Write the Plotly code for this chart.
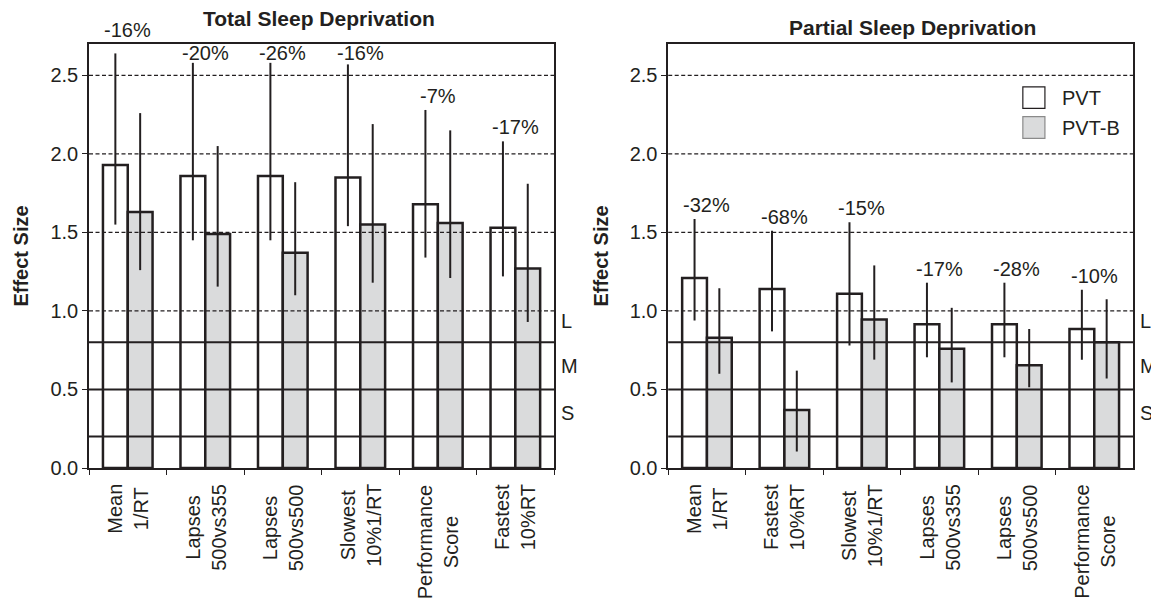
import plotly.graph_objects as go

# ---------------- data ----------------
series_names = ["PVT", "PVT-B"]

total_categories = ["Mean 1/RT", "Lapses 500vs355", "Lapses 500vs500",
                    "Slowest 10%1/RT", "Performance Score", "Fastest 10%RT"]
total_tick_labels = ["Mean<br>1/RT", "Lapses<br>500vs355", "Lapses<br>500vs500",
                     "Slowest<br>10%1/RT", "Performance<br>Score", "Fastest<br>10%RT"]
total_pvt = [1.93, 1.86, 1.86, 1.85, 1.68, 1.53]
total_pvt_lo = [1.55, 1.45, 1.45, 1.54, 1.34, 1.22]
total_pvt_hi = [2.64, 2.58, 2.58, 2.57, 2.28, 2.08]
total_pvtb = [1.63, 1.49, 1.37, 1.55, 1.56, 1.27]
total_pvtb_lo = [1.26, 1.155, 1.10, 1.18, 1.21, 0.93]
total_pvtb_hi = [2.26, 2.05, 1.82, 2.19, 2.15, 1.81]
total_change = ["-16%", "-20%", "-26%", "-16%", "-7%", "-17%"]

partial_categories = ["Mean 1/RT", "Fastest 10%RT", "Slowest 10%1/RT",
                      "Lapses 500vs355", "Lapses 500vs500", "Performance Score"]
partial_tick_labels = ["Mean<br>1/RT", "Fastest<br>10%RT", "Slowest<br>10%1/RT",
                       "Lapses<br>500vs355", "Lapses<br>500vs500", "Performance<br>Score"]
partial_pvt = [1.21, 1.14, 1.11, 0.915, 0.915, 0.885]
partial_pvt_lo = [0.94, 0.87, 0.78, 0.705, 0.705, 0.69]
partial_pvt_hi = [1.585, 1.51, 1.565, 1.18, 1.18, 1.135]
partial_pvtb = [0.83, 0.37, 0.945, 0.76, 0.655, 0.80]
partial_pvtb_lo = [0.60, 0.105, 0.69, 0.545, 0.515, 0.57]
partial_pvtb_hi = [1.145, 0.62, 1.29, 1.02, 0.885, 1.075]
partial_change = ["-32%", "-68%", "-15%", "-17%", "-28%", "-10%"]

panel_titles = ["Total Sleep Deprivation", "Partial Sleep Deprivation"]
effect_thresholds = [0.2, 0.5, 0.8]
effect_labels = ["S", "M", "L"]
grid_values = [1.0, 1.5, 2.0, 2.5]
y_ticks = [0.0, 0.5, 1.0, 1.5, 2.0, 2.5]
y_max = 2.7

# ---------------- style ----------------
INK = "#231f20"
GREY_FILL = "#dadbdc"
FONT = "Liberation Sans, Arial, Helvetica, sans-serif"
FS = 20

fig = go.Figure()

panels = [
    dict(xa="x", ya="y", xd="x domain", yd="y domain", cats=total_categories, ticks=total_tick_labels,
         pvt=total_pvt, pvt_lo=total_pvt_lo, pvt_hi=total_pvt_hi,
         pvtb=total_pvtb, pvtb_lo=total_pvtb_lo, pvtb_hi=total_pvtb_hi,
         change=total_change, title=panel_titles[0], title_shift=(-3, 26)),
    dict(xa="x2", ya="y2", xd="x2 domain", yd="y2 domain", cats=partial_categories, ticks=partial_tick_labels,
         pvt=partial_pvt, pvt_lo=partial_pvt_lo, pvt_hi=partial_pvt_hi,
         pvtb=partial_pvtb, pvtb_lo=partial_pvtb_lo, pvtb_hi=partial_pvtb_hi,
         change=partial_change, title=panel_titles[1], title_shift=(12, 17)),
]

annotations = []
shapes = []


def label_level(top):
    """Vertical centre of a percent label, given the highest whisker of its group."""
    if top > 2.6:                      # whisker reaches the frame: label sits above it
        return y_max + 0.09
    return min(top + 0.09, 2.64)


for p in panels:
    for name, vals, lo, hi, fill in [
        (series_names[0], p["pvt"], p["pvt_lo"], p["pvt_hi"], "white"),
        (series_names[1], p["pvtb"], p["pvtb_lo"], p["pvtb_hi"], GREY_FILL),
    ]:
        fig.add_trace(go.Bar(
            x=p["cats"], y=vals, name=name, showlegend=False,
            xaxis=p["xa"], yaxis=p["ya"],
            marker=dict(color=fill, line=dict(color=INK, width=2.5)),
            error_y=dict(type="data", symmetric=False,
                         array=[h - v for h, v in zip(hi, vals)],
                         arrayminus=[v - l for v, l in zip(vals, lo)],
                         width=0, thickness=2, color=INK),
        ))

    # percent change labels above each group (domain reference so labels above the
    # axis range are still drawn)
    for i, c in enumerate(p["cats"]):
        top = max(p["pvt_hi"][i], p["pvtb_hi"][i])
        annotations.append(dict(x=c, y=label_level(top) / y_max, xref=p["xa"], yref=p["yd"],
                                text=p["change"][i], showarrow=False,
                                xanchor="center", yanchor="middle",
                                font=dict(size=FS, color=INK, family=FONT)))
    # rotated category labels
    for c, lab in zip(p["cats"], p["ticks"]):
        annotations.append(dict(x=c, y=0, xref=p["xa"], yref="paper",
                                text=lab, showarrow=False, textangle=-90,
                                xanchor="center", yanchor="top", yshift=-14,
                                align="center",
                                font=dict(size=FS, color=INK, family=FONT)))
    # panel title
    annotations.append(dict(x=0.5, y=1, xref=p["xd"], yref="paper",
                            text="<b>" + p["title"] + "</b>", showarrow=False,
                            xanchor="center", yanchor="middle",
                            xshift=p["title_shift"][0], yshift=p["title_shift"][1],
                            font=dict(size=21, color=INK, family=FONT)))
    # effect size reference lines (S/M/L)
    for t in effect_thresholds:
        shapes.append(dict(type="line", xref=p["xd"], yref=p["ya"],
                           x0=0, x1=1, y0=t, y1=t, layer="above",
                           line=dict(color=INK, width=2)))
    bounds = effect_thresholds + [effect_thresholds[-1] + 0.3]
    for k, lab in enumerate(effect_labels):
        annotations.append(dict(x=1, y=(bounds[k] + bounds[k + 1]) / 2 - (0.015 if k == 2 else 0),
                                xref=p["xd"], yref=p["ya"],
                                text=lab, showarrow=False, xanchor="left", yanchor="middle",
                                xshift=5, font=dict(size=FS, color=INK, family=FONT)))
    # dashed grid lines above the bars
    for g in grid_values:
        shapes.append(dict(type="line", xref=p["xd"], yref=p["ya"],
                           x0=0, x1=1, y0=g, y1=g, layer="above",
                           line=dict(color=INK, width=1.2, dash="4px,2.5px")))

# manual legend in the right panel
legend_rows = [(series_names[0], "white", INK), (series_names[1], GREY_FILL, "#8a8a8a")]
for k, (name, fill, edge) in enumerate(legend_rows):
    y_top = 0.899 - k * 0.0705
    shapes.append(dict(type="rect", xref="x2 domain", yref="paper",
                       x0=0.763, x1=0.8105, y0=y_top - 0.051, y1=y_top,
                       fillcolor=fill, line=dict(color=edge, width=1.2), layer="above"))
    annotations.append(dict(x=0.842, y=y_top - 0.0255, xref="x2 domain", yref="paper",
                            text=name, showarrow=False, xanchor="left", yanchor="middle",
                            font=dict(size=FS, color=INK, family=FONT)))

xaxis_common = dict(type="category", showline=True, linecolor=INK, linewidth=1.5, mirror=True,
                    ticks="outside", ticklen=5, tickwidth=1, tickcolor=INK,
                    tickson="boundaries", showticklabels=False, showgrid=False,
                    range=[-0.5, 5.5])
yaxis_common = dict(range=[0, y_max], tickvals=y_ticks, tickformat=".1f",
                    showline=True, linecolor=INK, linewidth=1.5, mirror=True,
                    ticks="outside", ticklen=5, tickwidth=1, tickcolor=INK,
                    showgrid=False, zeroline=False,
                    tickfont=dict(size=FS, color=INK, family=FONT),
                    title=dict(text="<b>Effect Size</b>", standoff=16,
                               font=dict(size=FS, color=INK, family=FONT)))

# the page body has an 8px margin, so the figure is sized to fit the window
fig.update_layout(
    width=1151, height=594,
    margin=dict(l=79, r=26, t=36, b=134),
    paper_bgcolor="white", plot_bgcolor="white",
    font=dict(family=FONT, size=FS, color=INK),
    barmode="group", bargap=0.36, bargroupgap=0,
    showlegend=False,
    xaxis=dict(domain=[0, 0.4455], anchor="y", **xaxis_common),
    xaxis2=dict(domain=[0.5548, 1], anchor="y2", **xaxis_common),
    yaxis=dict(domain=[0, 1], anchor="x", **yaxis_common),
    yaxis2=dict(domain=[0, 1], anchor="x2", **yaxis_common),
    annotations=annotations,
    shapes=shapes,
)

fig.write_html("out.html")
